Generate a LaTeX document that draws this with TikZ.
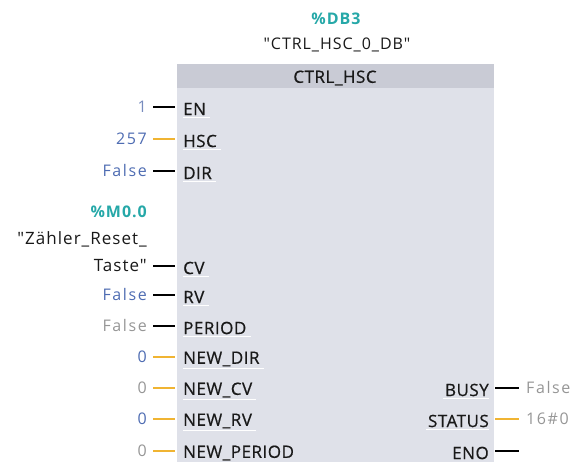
\documentclass[tikz,border=0pt]{standalone}
\usepackage{fontspec}
\setmainfont{Open Sans}
\newfontfamily\pinfont[LetterSpace=3, FakeBold=0.6]{Open Sans}
\newfontfamily\valfont[LetterSpace=10]{Open Sans}
\newfontfamily\tagfont[LetterSpace=6]{Open Sans}
\usetikzlibrary{positioning}
\newcommand\dq{\symbol{34}}
\definecolor{boxfill}{RGB}{223,225,233}
\definecolor{headfill}{RGB}{201,203,213}
\definecolor{pintext}{RGB}{25,25,25}
\definecolor{valblue}{RGB}{78,108,178}
\definecolor{vallight}{RGB}{120,140,190}
\definecolor{valgray}{RGB}{150,150,150}
\definecolor{tagteal}{RGB}{38,168,168}
\definecolor{wireor}{RGB}{240,180,50}

\begin{document}
\begin{tikzpicture}[x=1pt, y=-1pt, every node/.style={font=\pinfont\fontsize{17}{19}\selectfont},
    pin/.style={text=pintext, anchor=west, inner xsep=8pt, inner ysep=1pt},
    pinr/.style={text=pintext, anchor=east, inner xsep=6pt, inner ysep=1pt},
    val/.style={font=\valfont\fontsize{16}{18}\selectfont, anchor=east, inner xsep=6pt, inner ysep=1pt},
    valr/.style={font=\valfont\fontsize{16}{18}\selectfont, anchor=west, inner xsep=7pt, inner ysep=1pt, text=valgray},
    tag/.style={font=\tagfont\bfseries\fontsize{16}{18}\selectfont, text=tagteal, inner sep=0pt},
    wire/.style={line width=2.4pt},
    underl/.style={draw=white, line width=1pt}]
    \useasboundingbox (0,0) rectangle (584,462);
    % block body and title bar
    \fill[boxfill] (177,64) rectangle (494,462);
    \fill[headfill] (177,64) rectangle (494,88);
    \node[text=pintext] (title) at (335,78) {CTRL\_HSC};
    \node[tag] (db) at (336,19) {\%DB3};
    \node[text=pintext, inner sep=0pt, font=\tagfont\fontsize{16}{18}\selectfont] (dbname) at (337,45) {\dq CTRL\_HSC\_0\_DB\dq};
    % inputs
    \foreach \i/\y/\lbl/\val/\vcol/\wcol in {
        1/107/EN/1/vallight/black, 2/139/HSC/257/valblue/wireor,
        3/171/DIR/False/valblue/black, 5/295/RV/False/valblue/black,
        6/326/PERIOD/False/valgray/black, 7/357/NEW\_DIR/0/valblue/wireor,
        8/388/NEW\_CV/0/valgray/wireor, 9/419/NEW\_RV/0/valblue/wireor,
        10/451/NEW\_PERIOD/0/valgray/wireor}{
      \node[pin] (p\i) at (175,\y+2) {\lbl};
      \node[val, text=\vcol] (v\i) at (153,\y) {\val};
      \draw[wire, \wcol] (v\i.east) -- (p\i.west |- v\i.east);
      \draw[underl] ([xshift=8pt, yshift=-1pt]p\i.south west) -- ([xshift=-4pt, yshift=-1pt]p\i.south east);
    }
    % CV input with its tag
    \node[pin] (p4) at (175,268) {CV};
    \node[val, text=pintext, font=\tagfont\fontsize{17}{19}\selectfont] (v4) at (153,266) {Taste\dq};
    \node[val, text=pintext, font=\tagfont\fontsize{17}{19}\selectfont] (v4b) at (153,239) {\dq Zähler\_Reset\_};
    \node[tag, anchor=east] (m0) at (147,212) {\%M0.0};
    \draw[wire, black] (v4.east) -- (p4.west |- v4.east);
    \draw[underl] ([xshift=8pt, yshift=-1pt]p4.south west) -- ([xshift=-4pt, yshift=-1pt]p4.south east);
    % outputs
    \foreach \i/\y/\lbl/\val/\wcol in {
        11/388/BUSY/False/black, 12/419/STATUS/16\#0/wireor, 13/451/ENO//black}{
      \node[pinr] (p\i) at (495,\y+2) {\lbl};
      \node[valr] (v\i) at (519,\y) {\val};
      \draw[wire, \wcol] (p\i.east |- v\i.west) -- (v\i.west);
    }
    \draw[underl] ([xshift=4pt, yshift=-1pt]p11.south west) -- ([xshift=-6pt, yshift=-1pt]p11.south east);
    \draw[underl] ([xshift=4pt, yshift=-1pt]p12.south west) -- ([xshift=-6pt, yshift=-1pt]p12.south east);
\end{tikzpicture}
\end{document}
